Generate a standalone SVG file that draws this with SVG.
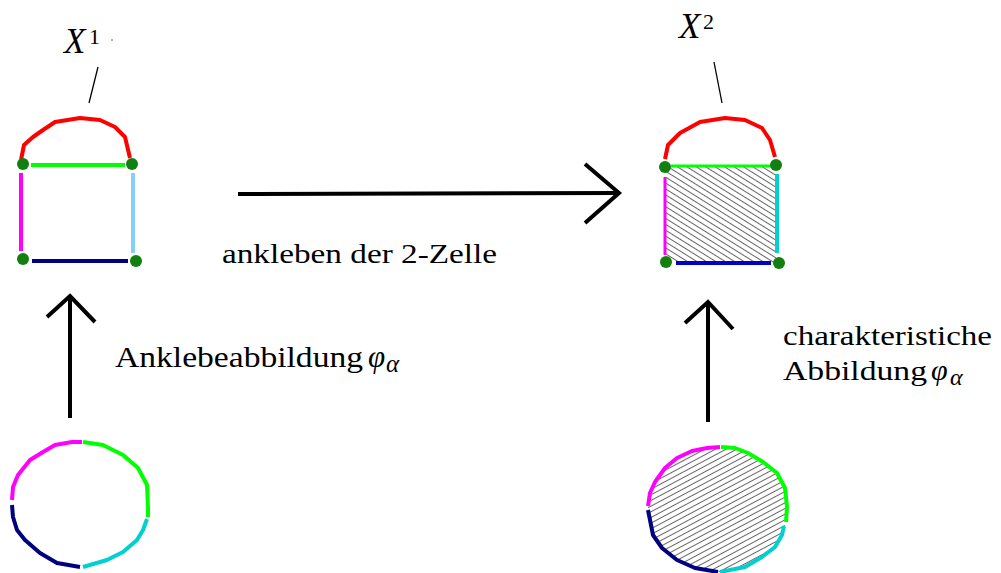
<svg xmlns="http://www.w3.org/2000/svg" width="1001" height="573" viewBox="0 0 1001 573">
<defs>
<style>
.t{font-family:"Liberation Serif","DejaVu Serif",serif;fill:#000}
.i{font-style:italic}
.e{fill:none;stroke-linejoin:round;stroke-linecap:butt}
.ar{fill:none;stroke:#000;stroke-width:4;stroke-linecap:butt;stroke-linejoin:miter}
.dot{fill:#118011}
.ln{stroke:#000;stroke-width:1.3}
</style>
<pattern id="h1" patternUnits="userSpaceOnUse" width="5" height="5" patternTransform="rotate(32)">
<rect width="5" height="5" fill="#fff"/>
<line x1="0" y1="2.5" x2="5" y2="2.5" stroke="#555" stroke-width="0.9"/>
</pattern>
<pattern id="h2" patternUnits="userSpaceOnUse" width="5" height="5" patternTransform="rotate(-28)">
<rect width="5" height="5" fill="#fff"/>
<line x1="0" y1="2.5" x2="5" y2="2.5" stroke="#555" stroke-width="0.9"/>
</pattern>
</defs>
<rect width="1001" height="573" fill="#fff"/>

<g id="X1">
<text class="t i" x="64" y="53" font-size="35">X</text>
<text class="t" x="89" y="44" font-size="22">1</text>
<circle cx="112" cy="40" r="0.8" fill="#555"/>
<line class="ln" x1="98" y1="67" x2="89" y2="103"/>
<polyline class="e" stroke="#ff0000" stroke-width="4" points="21,160 24,145 33,137 43,130 55,122 80,118 100,120 115,127 125,137 130,158"/>
<line stroke="#00ff00" stroke-width="4" x1="31" y1="165" x2="125" y2="165"/>
<line stroke="#ff00ff" stroke-width="4" x1="21" y1="173" x2="21" y2="251"/>
<line stroke="#87cefa" stroke-width="4" x1="133" y1="173" x2="133" y2="253"/>
<line stroke="#000080" stroke-width="4" x1="32" y1="261" x2="128" y2="261"/>
<circle class="dot" cx="23" cy="164" r="6"/>
<circle class="dot" cx="132" cy="164" r="6"/>
<circle class="dot" cx="23" cy="259" r="6"/>
<circle class="dot" cx="136" cy="261" r="6"/>
</g>

<g id="X2">
<text class="t i" x="679" y="38" font-size="35">X</text>
<text class="t" x="703" y="29" font-size="22">2</text>
<line class="ln" x1="714" y1="62" x2="722" y2="103"/>
<rect x="666" y="167" width="110" height="96" fill="url(#h1)"/>
<polyline class="e" stroke="#ff0000" stroke-width="4" points="665,159 668,145 680,133 700,122 725,118 745,120 762,128 770,140 775,157"/>
<line stroke="#00ff00" stroke-width="3" x1="671" y1="166" x2="773" y2="166"/>
<line stroke="#ff00ff" stroke-width="3" x1="665" y1="177" x2="665" y2="255"/>
<line stroke="#00d0d0" stroke-width="4" x1="777" y1="174" x2="777" y2="253"/>
<line stroke="#0000c8" stroke-width="4" x1="676" y1="263" x2="771" y2="263"/>
<circle class="dot" cx="665" cy="167" r="6"/>
<circle class="dot" cx="776" cy="165" r="6"/>
<circle class="dot" cx="666" cy="262" r="6"/>
<circle class="dot" cx="779" cy="263" r="6"/>
</g>

<g id="S1">
<polyline class="e" stroke="#ff00ff" stroke-width="4" points="12,500 13,487 18,475 30,460 43,452 55,445 72,442 82,442"/>
<polyline class="e" stroke="#00ff00" stroke-width="4" points="83,442 103,445 123,455 138,468 147,485 148,508 148,517"/>
<polyline class="e" stroke="#00d0d0" stroke-width="4" points="147,519 143,530 137,540 123,552 107,560 83,567"/>
<polyline class="e" stroke="#000080" stroke-width="4" points="12,505 13,517 17,530 25,540 40,553 57,563 80,567"/>
</g>

<g id="D2">
<path d="M648,506 L650,493 655,482 665,468 677,458 692,451 707,448 720,447 735,448 748,453 763,462 777,473 785,488 787,507 786,522 782,535 775,547 762,557 745,567 720,572 695,568 677,560 662,548 653,535 650,520 648,510 Z" fill="url(#h2)"/>
<polyline class="e" stroke="#ff00ff" stroke-width="4" points="648,506 650,493 655,482 665,468 677,458 692,451 707,448 720,447"/>
<polyline class="e" stroke="#00ff00" stroke-width="4" points="721,447 735,448 748,453 763,462 777,473 785,488 787,507 786,522"/>
<polyline class="e" stroke="#00d0d0" stroke-width="4" points="784,526 782,535 775,547 762,557 745,567 720,572"/>
<polyline class="e" stroke="#000080" stroke-width="4" points="648,510 650,520 653,535 662,548 677,560 695,568 718,572"/>
</g>

<g id="connectors">
<line class="ar" x1="238" y1="194" x2="618" y2="193"/>
<polyline class="ar" points="585,164 619,193 585,223"/>
<line class="ar" x1="70" y1="418" x2="70" y2="298"/>
<polyline class="ar" points="47,317 70,296 95,322"/>
<line class="ar" x1="708" y1="422" x2="708" y2="304"/>
<polyline class="ar" points="685,323 708,302 733,329"/>
</g>

<g id="labels">
<text class="t" x="222" y="263" font-size="27" textLength="275" lengthAdjust="spacingAndGlyphs">ankleben der 2-Zelle</text>
<text class="t" x="115" y="367" font-size="30" textLength="248" lengthAdjust="spacingAndGlyphs">Anklebeabbildung</text>
<text class="t i" x="368" y="367" font-size="31">φ</text>
<text class="t i" x="386" y="372" font-size="25">α</text>
<text class="t" x="783" y="345" font-size="28" textLength="209" lengthAdjust="spacingAndGlyphs">charakteristiche</text>
<text class="t" x="783" y="380" font-size="28" textLength="144" lengthAdjust="spacingAndGlyphs">Abbildung</text>
<text class="t i" x="931" y="380" font-size="30">φ</text>
<text class="t i" x="950" y="385" font-size="24">α</text>
</g>
</svg>
